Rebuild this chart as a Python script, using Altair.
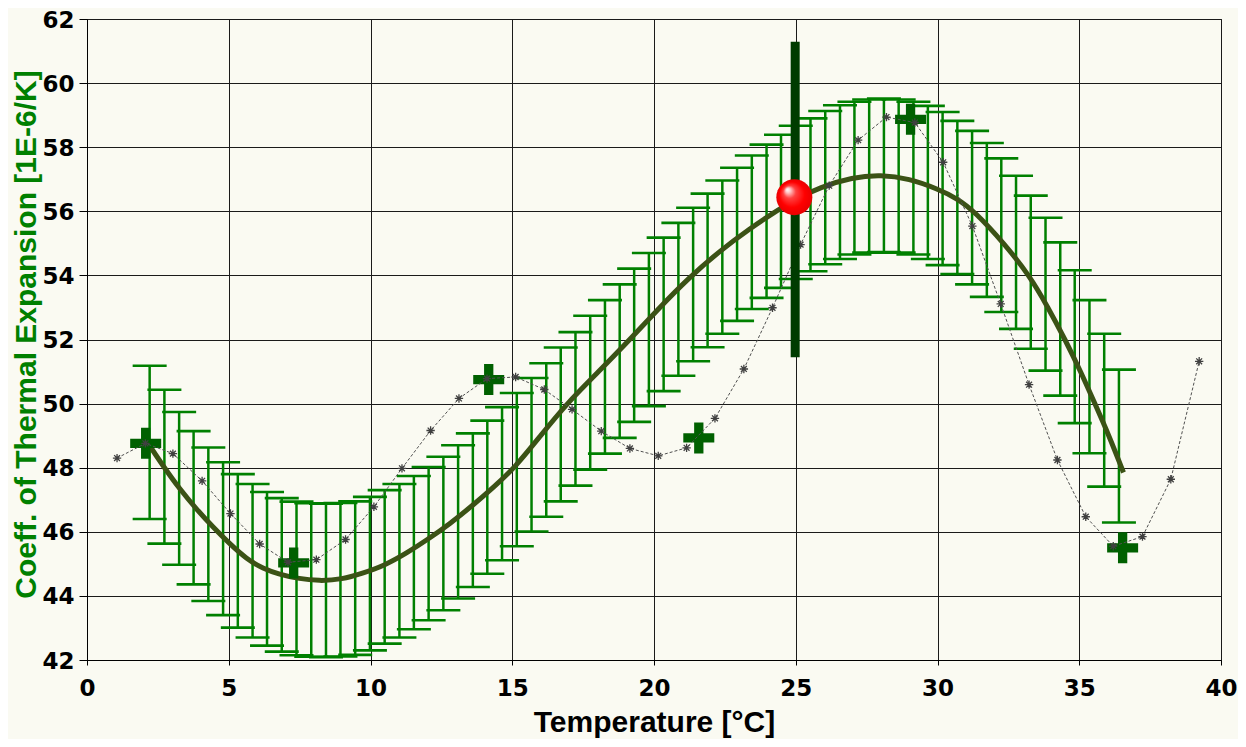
import altair as alt
import pandas as pd

# ---- measured series (grey dashed line with asterisks) ----
meas_x = [1.06, 2.06, 3.03, 4.06, 5.06, 6.09, 7.09, 8.09, 9.12, 10.12, 11.11, 12.12, 13.12,
          14.11, 15.12, 16.13, 17.11, 18.14, 19.15, 20.15, 21.15, 22.15, 23.17, 24.18, 25.17,
          26.18, 27.2, 28.2, 29.2, 30.2, 31.23, 32.23, 33.23, 34.23, 35.23, 36.2, 37.23, 38.23, 39.23]
meas_y = [48.3, 48.76, 48.44, 47.59, 46.57, 45.62, 45.05, 45.13, 45.76, 46.78, 47.98, 49.16, 50.16,
          50.78, 50.83, 50.44, 49.82, 49.14, 48.6, 48.37, 48.62, 49.54, 51.08, 52.99, 54.96,
          56.8, 58.22, 58.94, 58.77, 57.53, 55.54, 53.11, 50.59, 48.24, 46.47, 45.55, 45.85, 47.64, 51.32]

# ---- big cross markers ----
cross_x = [2.07, 7.29, 14.17, 21.58, 29.05, 36.53]
cross_y = [48.76, 45.03, 50.75, 48.93, 58.87, 45.5]

# ---- fitted curve ----
fit_x = [2.2, 2.68, 3.27, 3.86, 4.45, 5.04, 5.62, 6.21, 6.8, 7.39, 8.2, 9.0, 9.7, 10.5, 11.3, 12.0,
         12.8, 13.6, 14.35, 15.09, 16.0, 16.92, 18.05, 19.15, 20.2, 21.2, 22.3, 23.38, 24.3, 25.0,
         25.85, 27.0, 28.0, 29.0, 30.0, 30.7, 31.3, 32.35, 33.24, 33.9, 34.5, 35.05, 35.55, 36.05, 36.56]
fit_y = [48.7, 48.06, 47.33, 46.71, 46.14, 45.62, 45.16, 44.85, 44.67, 44.55, 44.46, 44.52, 44.7, 44.95,
         45.35, 45.75, 46.25, 46.82, 47.4, 48.0, 49.0, 50.0, 51.0, 52.0, 53.0, 53.9, 54.75, 55.46, 56.0,
         56.38, 56.75, 57.06, 57.14, 57.02, 56.7, 56.4, 56.0, 55.0, 54.0, 53.0, 52.0, 51.0, 50.0, 49.0, 47.85]

# ---- error bars (band around the fit) ----
bar_x = [2.21, 2.73, 3.25, 3.76, 4.28, 4.80, 5.32, 5.84, 6.35, 6.87, 7.39, 7.91, 8.43, 8.94, 9.46,
         9.98, 10.50, 11.02, 11.53, 12.05, 12.57, 13.09, 13.61, 14.12, 14.64, 15.16, 15.68, 16.20,
         16.71, 17.23, 17.75, 18.27, 18.79, 19.30, 19.82, 20.34, 20.86, 21.38, 21.89, 22.41, 22.93,
         23.45, 23.97, 24.48, 25.00, 25.52, 26.04, 26.56, 27.07, 27.59, 28.11, 28.63, 29.15, 29.66,
         30.18, 30.70, 31.22, 31.74, 32.25, 32.77, 33.29, 33.81, 34.33, 34.84, 35.36, 35.88, 36.40]
bar_hi = [51.18, 50.43, 49.74, 49.14, 48.63, 48.17, 47.80, 47.49, 47.24, 47.05, 46.94, 46.89, 46.88,
          46.90, 46.95, 47.09, 47.30, 47.49, 47.74, 48.02, 48.34, 48.70, 49.07, 49.47, 49.89, 50.33,
          50.80, 51.26, 51.75, 52.23, 52.74, 53.23, 53.72, 54.21, 54.70, 55.18, 55.64, 56.11, 56.55,
          56.96, 57.36, 57.74, 58.08, 58.39, 58.67, 58.90, 59.13, 59.31, 59.42, 59.49, 59.52, 59.49,
          59.42, 59.29, 59.10, 58.82, 58.51, 58.13, 57.65, 57.11, 56.49, 55.80, 55.03, 54.16, 53.23,
          52.18, 51.06]
bar_lo = [46.40, 45.63, 44.97, 44.36, 43.84, 43.40, 43.01, 42.70, 42.45, 42.26, 42.15, 42.10, 42.09,
          42.11, 42.16, 42.30, 42.51, 42.70, 42.96, 43.24, 43.55, 43.92, 44.28, 44.69, 45.11, 45.55,
          46.01, 46.47, 46.95, 47.44, 47.94, 48.44, 48.93, 49.43, 49.92, 50.39, 50.87, 51.32, 51.76,
          52.18, 52.58, 52.95, 53.30, 53.61, 53.89, 54.13, 54.35, 54.51, 54.65, 54.71, 54.73, 54.71,
          54.65, 54.51, 54.32, 54.04, 53.72, 53.33, 52.86, 52.33, 51.71, 51.03, 50.25, 49.39, 48.45,
          47.41, 46.29]

# ---- highlighted reference value ----
ref_x = [24.98]
ref_lo = [51.45]
ref_hi = [61.29]
pt_x = [24.95]
pt_y = [56.44]

x_ticks = [0, 5, 10, 15, 20, 25, 30, 35, 40]
y_ticks = [42, 44, 46, 48, 50, 52, 54, 56, 58, 60, 62]

meas = pd.DataFrame({"x": meas_x, "y": meas_y})
cross = pd.DataFrame({"x": cross_x, "y": cross_y})
fit = pd.DataFrame({"x": fit_x, "y": fit_y})
bars = pd.DataFrame({"x": bar_x, "y": bar_hi, "lo": bar_lo})
ref = pd.DataFrame({"x": ref_x, "y": ref_hi, "lo": ref_lo})
pt = pd.DataFrame({"x": pt_x, "y": pt_y})

GREEN = "#008000"
xscale = alt.Scale(domain=[0, 40], nice=False, zero=False)
yscale = alt.Scale(domain=[42, 62], nice=False, zero=False)

xaxis = alt.Axis(values=x_ticks, grid=True, gridColor="#1a1a1a", gridWidth=1, gridOpacity=1,
                 domainColor="#000", domainWidth=1, tickColor="#000", tickSize=5, tickWidth=1,
                 labelFont="DejaVu Sans", labelFontSize=23, labelFontWeight="bold", labelColor="#000",
                 labelPadding=30, labelBaseline="alphabetic", labelFlush=False, labelOverlap=False,
                 titleFont="Liberation Sans", titleFontSize=30, titleFontWeight="bold", titleColor="#000",
                 titleX=567, titleY=71, titleBaseline="alphabetic", titleAlign="center")
yaxis = alt.Axis(values=y_ticks, grid=True, gridColor="#1a1a1a", gridWidth=1, gridOpacity=1,
                 domainColor="#000", domainWidth=1, tickColor="#000", tickSize=8, tickWidth=1,
                 labelFont="DejaVu Sans", labelFontSize=23, labelFontWeight="bold", labelColor="#000",
                 labelPadding=5, labelBaseline="middle", labelAlign="right", labelOverlap=False,
                 labelOffset=1,
                 titleFont="Liberation Sans", titleFontSize=30, titleFontWeight="bold", titleColor=GREEN,
                 titleAngle=270, titleX=-52, titleY=315, titleBaseline="alphabetic", titleAlign="center")

X = alt.X("x:Q", scale=xscale, axis=xaxis, title="Temperature [°C]")
Y = alt.Y("y:Q", scale=yscale, axis=yaxis, title="Coeff. of Thermal Expansion [1E-6/K]")

err_v = alt.Chart(bars).mark_rule(color=GREEN, strokeWidth=2.5).encode(x=X, y=Y, y2="lo:Q")
err_top = alt.Chart(bars).mark_tick(color=GREEN, orient="horizontal", size=34, thickness=2.6,
                                    opacity=1).encode(x=X, y=Y)
err_bot = alt.Chart(bars).mark_tick(color=GREEN, orient="horizontal", size=34, thickness=2.6,
                                    opacity=1).encode(x=X, y=alt.Y("lo:Q", scale=yscale))

fit_line = alt.Chart(fit).mark_line(color="#3b5215", strokeWidth=5,
                                    interpolate="basis").encode(x=X, y=Y)

CROSS = "M-1,-0.3H-0.3V-1H0.3V-0.3H1V0.3H0.3V1H-0.3V0.3H-1Z"
crosses = alt.Chart(cross).mark_point(shape=CROSS, size=961, filled=True, fill="#006000",
                                      opacity=1, strokeWidth=0).encode(x=X, y=Y)

meas_line = alt.Chart(meas).mark_line(color="#505050", strokeWidth=1,
                                      strokeDash=[3, 2]).encode(x=X, y=Y)
STAR = "M-1,0H1M0,-1V1M-0.7,-0.7L0.7,0.7M-0.7,0.7L0.7,-0.7"
meas_pts = alt.Chart(meas).mark_point(shape=STAR, size=70, filled=False, stroke="#404040",
                                      strokeWidth=1.3, opacity=1).encode(x=X, y=Y)

ref_bar = alt.Chart(ref).mark_rule(color="#003c00", strokeWidth=9).encode(x=X, y=Y, y2="lo:Q")

sphere_fill = alt.RadialGradient(
    gradient="radial", x1=0.3, y1=0.28, r1=0.0, x2=0.5, y2=0.5, r2=0.5,
    stops=[alt.GradientStop(offset=0.0, color="#ffffff"),
           alt.GradientStop(offset=0.12, color="#ffd0d0"),
           alt.GradientStop(offset=0.35, color="#ff4040"),
           alt.GradientStop(offset=0.7, color="#ff0000"),
           alt.GradientStop(offset=1.0, color="#e80000")])
sphere = alt.Chart(pt).mark_point(shape="circle", size=1296, filled=True, fill=sphere_fill,
                                  opacity=1, strokeWidth=0).encode(x=X, y=Y)

chart = alt.layer(err_v, err_top, err_bot, fit_line, crosses, meas_line, meas_pts,
                  ref_bar, sphere).properties(
    width=1134, height=641,
    autosize=alt.AutoSizeParams(type="none"),
    padding={"left": 79, "top": 11, "right": 17, "bottom": 79},
    background="#FAFAF2",
).configure_view(stroke="#000", strokeWidth=1)

chart.save("out.html", embed_options={"renderer": "svg", "actions": False})
